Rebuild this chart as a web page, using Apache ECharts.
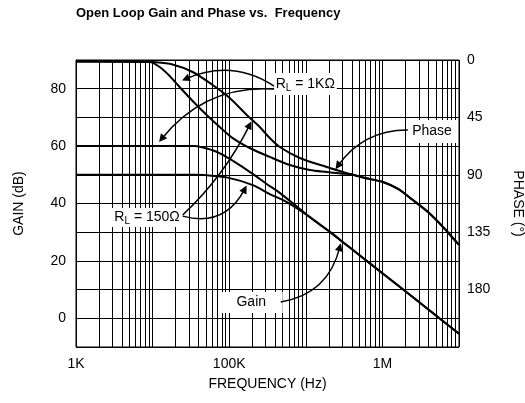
<!DOCTYPE html>
<html>
<head>
<meta charset="utf-8">
<script src="https://cdn.jsdelivr.net/npm/echarts@6/dist/echarts.min.js"></script>
<style>
html, body { margin: 0; padding: 0; background: #fff; }
#chart { width: 525px; height: 403px; }
</style>
</head>
<body>
<div id="chart"></div>
<script>
// values: frequency in Hz, gain in dB, phase in degrees
var gain1kFreq  = [1000, 35400, 45100, 64600, 92700, 137000, 203000, 309000, 457000, 835000, 1310000, 2060000, 3240000, 5080000, 10200000, 18500000, 41800000, 100000000];
var gain1k      = [60, 60, 59.5, 58.3, 56.2, 53.4, 50.3, 46.8, 43.7, 38.1, 33.9, 30.1, 26.0, 21.9, 15.5, 10.1, 2.6, -5.4];
var gain150Freq = [1000, 35400, 47900, 92700, 203000, 338000, 565000, 1130000, 2060000, 3240000, 5080000, 10200000, 18500000, 41800000, 100000000];
var gain150     = [50, 50, 49.9, 49.1, 46.4, 43.3, 40.5, 35.3, 30.1, 26.0, 21.9, 15.5, 10.1, 2.6, -5.4];

var phase1kFreq  = [1000, 9140, 12360, 16700, 22500, 33300, 50800, 75200, 111200, 185400, 338300, 618000, 1130000, 1880000, 2860000, 3760000, 5900000, 10160000, 16000000, 25000000, 39400000, 61800000, 100000000];
var phase1k      = [1.2, 1.6, 5.5, 12.5, 21.2, 32.1, 43.1, 52.5, 61.2, 69, 76, 82.3, 86.2, 87.8, 89.0, 89.4, 92.5, 95.6, 101.1, 109.8, 119.2, 130.9, 145];
var phase150Freq = [1000, 6760, 10000, 18200, 33300, 60800, 101600, 169500, 250600, 338300, 457000, 835000, 1880000, 3050000, 3760000, 5900000, 10160000, 16000000, 25000000, 39400000, 61800000, 100000000];
var phase150     = [1.2, 1.2, 1.6, 3.5, 9.4, 19.6, 29.8, 43.1, 52.5, 61.2, 68.2, 76.8, 83.9, 87.8, 89.4, 92.5, 95.6, 101.1, 109.8, 119.2, 130.9, 145];

var xTickValues = [1000, 100000, 10000000];
var xTickLabels = ['1K', '100K', '1M'];
var gainLabels  = [0, 20, 40, 60, 80];
var phaseLabels = [0, 45, 90, 135, 180];

var FONT = 'Liberation Sans, Arial, Helvetica, sans-serif';

function pairs(xs, ys) {
	return xs.map(function (x, i) { return [x, ys[i]]; });
}

// minor vertical grid lines 2..9 of every decade
var minorGrid = [];
for (var d = 3; d < 8; d++) {
	for (var k = 2; k <= 9; k++) {
		minorGrid.push({ xAxis: k * Math.pow(10, d) });
	}
}

// annotation arrow, in frequency / gain coordinates
function arrow(from, to, c) {
	return { coords: [from, to], lineStyle: { curveness: c } };
}

var chart = echarts.init(document.getElementById('chart'));

var curveStyle = { color: '#000', width: 2 };

var option = {
	animation: false,
	backgroundColor: '#fff',
	title: {
		text: 'Open Loop Gain and Phase vs.  Frequency',
		left: 76,
		top: 7,
		padding: 0,
		textStyle: { fontFamily: FONT, fontSize: 13, fontWeight: 'bold', color: '#000' }
	},
	grid: {
		left: 76,
		right: 66,
		top: 60,
		bottom: 56,
		show: true,
		borderColor: '#000',
		borderWidth: 1,
		outerBoundsMode: 'none'
	},
	xAxis: {
		type: 'log',
		logBase: 10,
		min: 1000,
		max: 100000000,
		name: 'FREQUENCY (Hz)',
		nameLocation: 'middle',
		nameGap: 30,
		nameTextStyle: { fontFamily: FONT, fontSize: 14, color: '#000' },
		axisLine: { lineStyle: { color: '#000' } },
		axisTick: { show: false },
		axisLabel: {
			margin: 10,
			fontFamily: FONT,
			fontSize: 14,
			color: '#000',
			formatter: function (v) {
				var i = xTickValues.indexOf(Math.pow(10, Math.round(Math.log10(v))));
				return i >= 0 ? xTickLabels[i] : '';
			}
		},
		splitLine: { show: true, lineStyle: { color: '#000', width: 1 } }
	},
	yAxis: [{
		type: 'value',
		min: -10,
		max: 90,
		interval: 10,
		name: 'GAIN (dB)',
		nameLocation: 'middle',
		nameGap: 50,
		nameRotate: 90,
		nameTextStyle: { fontFamily: FONT, fontSize: 14, color: '#000' },
		axisLine: { show: true, lineStyle: { color: '#000' } },
		axisTick: { show: false },
		axisLabel: {
			margin: 10,
			fontFamily: FONT,
			fontSize: 14,
			color: '#000',
			formatter: function (v) { return gainLabels.indexOf(v) >= 0 ? String(v) : ''; }
		},
		splitLine: { show: true, lineStyle: { color: '#000', width: 1 } }
	}, {
		type: 'value',
		position: 'right',
		inverse: true,
		min: 0,
		max: 225,
		interval: 45,
		name: 'PHASE (°)',
		nameLocation: 'middle',
		nameGap: 52,
		nameRotate: -90,
		nameTextStyle: { fontFamily: FONT, fontSize: 14, color: '#000' },
		axisLine: { show: false },
		axisTick: { show: false },
		axisLabel: {
			margin: 8,
			fontFamily: FONT,
			fontSize: 14,
			color: '#000',
			formatter: function (v) { return phaseLabels.indexOf(v) >= 0 ? String(v) : ''; }
		},
		splitLine: { show: false }
	}],
	series: [{
		// helper series for the minor log grid
		type: 'line',
		data: [],
		z: 1,
		markLine: {
			silent: true,
			symbol: ['none', 'none'],
			label: { show: false },
			lineStyle: { color: '#000', width: 1, type: 'solid' },
			data: minorGrid
		}
	}, {
		name: 'Gain RL=1K',
		type: 'line',
		yAxisIndex: 0,
		data: pairs(gain1kFreq, gain1k),
		showSymbol: false,
		smooth: 0.3,
		lineStyle: curveStyle,
		z: 3
	}, {
		name: 'Gain RL=150',
		type: 'line',
		yAxisIndex: 0,
		data: pairs(gain150Freq, gain150),
		showSymbol: false,
		smooth: 0.3,
		lineStyle: curveStyle,
		z: 3
	}, {
		name: 'Phase RL=1K',
		type: 'line',
		yAxisIndex: 1,
		data: pairs(phase1kFreq, phase1k),
		showSymbol: false,
		smooth: 0.3,
		lineStyle: curveStyle,
		z: 3
	}, {
		name: 'Phase RL=150',
		type: 'line',
		yAxisIndex: 1,
		data: pairs(phase150Freq, phase150),
		showSymbol: false,
		smooth: 0.3,
		lineStyle: curveStyle,
		z: 3
	}, {
		// white label boxes, placed in frequency / gain coordinates
		type: 'line',
		yAxisIndex: 0,
		data: [],
		z: 4,
		markPoint: {
			silent: true,
			symbol: 'rect',
			itemStyle: { color: '#fff' },
			label: {
				show: true,
				position: 'inside',
				color: '#000',
				fontFamily: FONT,
				fontSize: 14,
				rich: {
					s: { fontFamily: FONT, fontSize: 10, color: '#000', padding: [8, 0, 0, 0] }
				}
			},
			data: [
				{ coord: [984000, 81.6], symbolSize: [63, 22], label: { formatter: 'R{s|L} = 1KΩ' } },
				{ coord: [8470, 35.1], symbolSize: [71, 19], label: { formatter: 'R{s|L} = 150Ω' } },
				{ coord: [44400000, 65.1], symbolSize: [50, 23], label: { formatter: 'Phase' } },
				{ coord: [194000, 5.5], symbolSize: [63, 21], label: { formatter: 'Gain' } }
			]
		}
	}, {
		// curved pointer arrows
		type: 'lines',
		coordinateSystem: 'cartesian2d',
		xAxisIndex: 0,
		yAxisIndex: 0,
		silent: true,
		z: 5,
		symbol: ['none', 'triangle'],
		symbolSize: [6, 8],
		lineStyle: { color: '#000', width: 1.5, opacity: 1 },
		data: [
			arrow([385000, 80.9], [27000, 83.4], -0.27),
			arrow([385000, 79.9], [13100, 62.5], -0.26),
			arrow([24700, 36.0], [185400, 67.4], -0.09),
			arrow([24700, 35.6], [159700, 45.0], -0.4),
			arrow([21500000, 65.6], [2620000, 53.1], -0.26),
			arrow([471000, 5.7], [2780000, 24.8], -0.33)
		]
	}]
};

chart.setOption(option);
</script>
</body>
</html>
